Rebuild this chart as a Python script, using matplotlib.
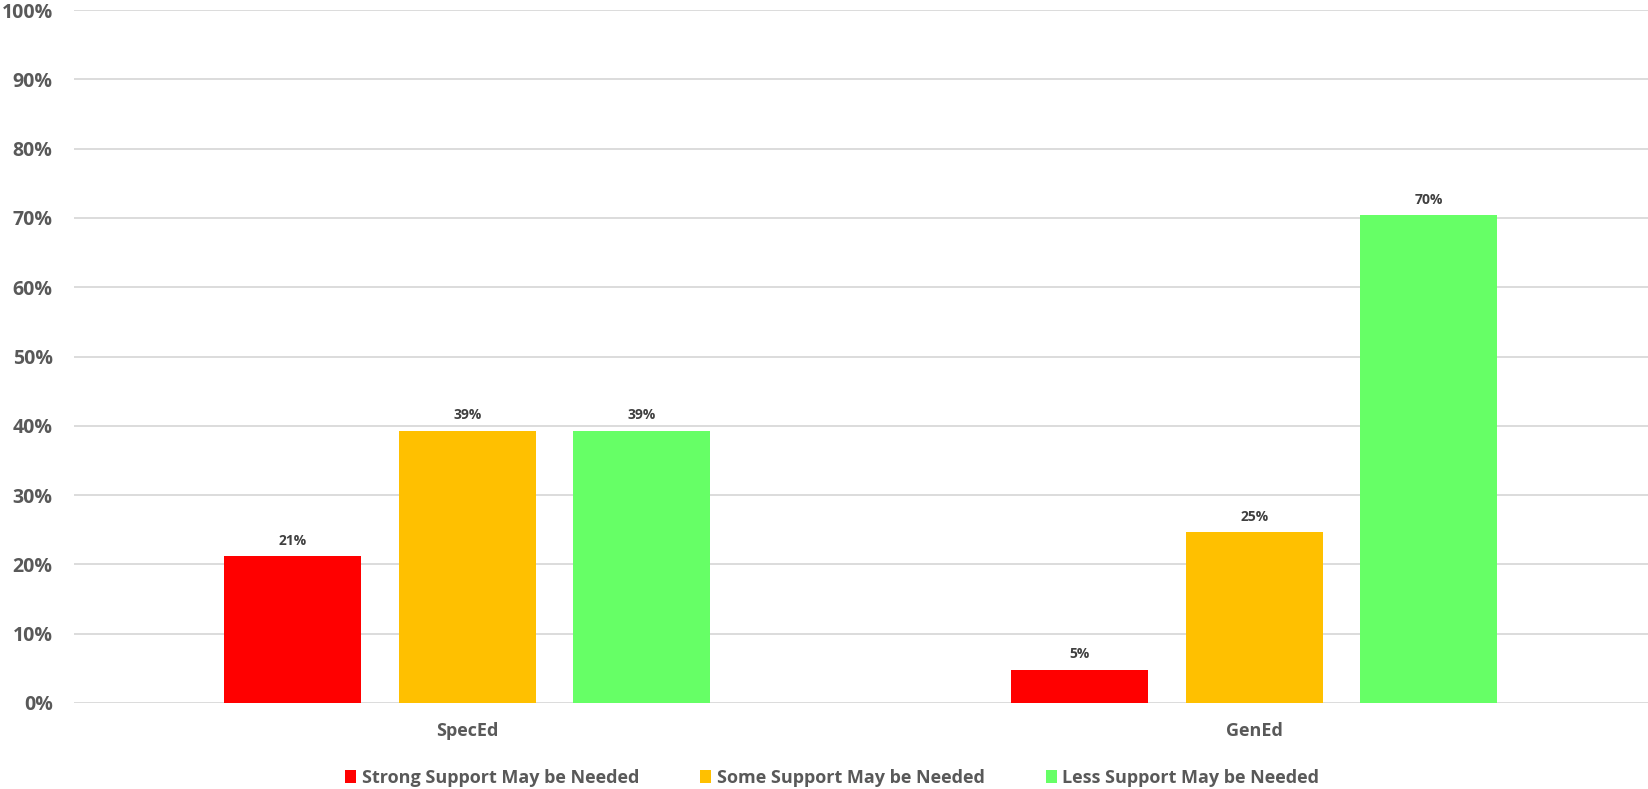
import numpy as np
import matplotlib
matplotlib.use("Agg")
import matplotlib.pyplot as plt
from matplotlib.ticker import PercentFormatter

# data
groups = ["SpecEd", "GenEd"]
series = ["Strong Support May be Needed", "Some Support May be Needed", "Less Support May be Needed"]
values = [
    [0.212, 0.048],   # strong
    [0.393, 0.247],   # some
    [0.393, 0.704],   # less
]
labels = [
    ["21%", "5%"],
    ["39%", "25%"],
    ["39%", "70%"],
]
colors = ["#FF0000", "#FFC000", "#66FF66"]

plt.rcParams["font.family"] = ["Open Sans", "DejaVu Sans"]
plt.rcParams["font.weight"] = "bold"
text_col = "#595959"

fig = plt.figure(figsize=(16.48, 7.89), dpi=100)
ax = fig.add_axes([73.5 / 1648, 86 / 789, 1 - 73.5 / 1648, 693 / 789])

x = np.arange(len(groups))
width = 0.174
step = 0.2217
for i, (name, vals, col) in enumerate(zip(series, values, colors)):
    pos = x + (i - 1) * step
    bars = ax.bar(pos, vals, width=width, color=col, label=name, zorder=3)
    for b, lab in zip(bars, labels[i]):
        ax.text(b.get_x() + b.get_width() / 2, b.get_height() + 0.012, lab,
                ha="center", va="bottom", fontsize=10, fontweight="bold", color="#404040")

ax.set_xlim(-0.5, 1.5)
ax.set_ylim(0, 1.0)
ax.set_yticks(np.arange(0, 1.01, 0.1))
ax.yaxis.set_major_formatter(PercentFormatter(1.0, decimals=0))
ax.set_xticks(x)
ax.set_xticklabels(groups)
ax.grid(axis="y", color="#d9d9d9", linewidth=1.3, zorder=0)
for s in ax.spines.values():
    s.set_visible(False)
ax.tick_params(axis="both", length=0, colors=text_col)
ax.tick_params(axis="y", labelsize=14, pad=15)
ax.tick_params(axis="x", labelsize=13, pad=14)
for t in ax.get_yticklabels() + ax.get_xticklabels():
    t.set_fontweight("bold")

leg = fig.legend(loc="lower center", ncol=3, frameon=False, bbox_to_anchor=(0.505, -0.018),
                 fontsize=13, handlelength=0.6, handleheight=0.7, handletextpad=0.3,
                 columnspacing=3.4)
for t in leg.get_texts():
    t.set_color(text_col)
    t.set_fontweight("bold")

fig.savefig("out.png", dpi=100)
